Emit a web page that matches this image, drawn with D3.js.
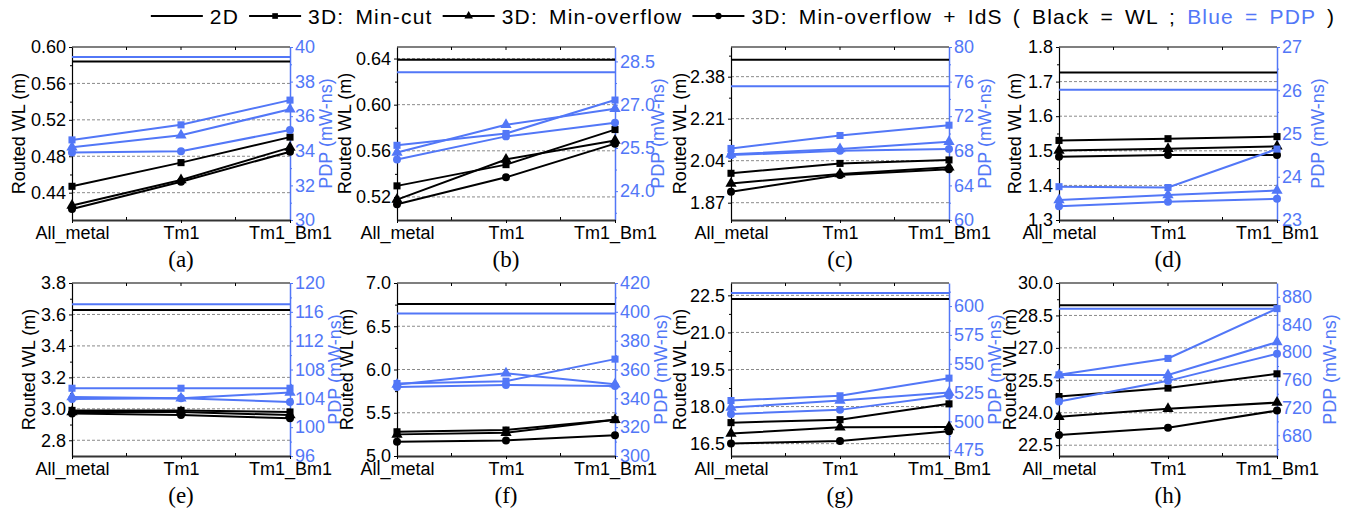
<!DOCTYPE html>
<html><head><meta charset="utf-8">
<script src="https://cdn.jsdelivr.net/npm/d3@7"></script>
<style>
body{margin:0;background:#fff}
text{font-family:"Liberation Sans",Arial,sans-serif}
</style>
</head><body><svg id="c" width="1364" height="512"></svg>
<script>
// ---------------- data ----------------
const categories = ["All_metal", "Tm1", "Tm1_Bm1"];
const panelLabels = ["(a)", "(b)", "(c)", "(d)", "(e)", "(f)", "(g)", "(h)"];
const seriesNames = ["2D", "3D: Min-cut", "3D: Min-overflow", "3D: Min-overflow + IdS"];

// Routed WL (m)
const wl2D = [0.584, 0.639, 2.448, 1.726, 3.629, 6.758, 22.35, 28.97];
const wlMinCut = [[0.447,0.473,0.501],[0.5296,0.548,0.5784],[1.989,2.029,2.043],[1.530,1.535,1.541],[2.99,2.99,2.98],[5.28,5.30,5.42],[17.35,17.47,18.11],[24.75,25.14,25.80]];
const wlMinOverflow = [[0.426,0.454,0.4895],[0.5177,0.5525,0.569],[1.948,1.986,2.013],[1.501,1.506,1.513],[2.98,2.98,2.96],[5.25,5.27,5.42],[16.91,17.16,17.17],[23.82,24.18,24.47]];
const wlIdS = [[0.422,0.452,0.485],[0.5136,0.537,0.5662],[1.914,1.982,2.005],[1.483,1.488,1.488],[2.97,2.96,2.94],[5.165,5.18,5.24],[16.51,16.61,17.00],[22.97,23.31,24.10]];

// PDP (mW-ns)
const pdp2D = [39.42, 28.12, 75.46, 26.01, 117.05, 398.8, 611.3, 862.8];
const pdpMinCut = [[34.63,35.5,36.93],[25.59,26.0,27.16],[68.27,69.77,70.96],[23.77,23.75,24.64],[105.4,105.4,105.4],[350.3,351.9,367.2],[518.1,522.2,537.5],[767.3,791.0,863.0]];
const pdpMinOverflow = [[34.2,34.9,36.4],[25.34,26.3,26.86],[67.6,68.2,69.04],[23.46,23.58,23.68],[104.2,104.0,104.8],[349.6,357.4,349.8],[512.0,518.1,525.1],[767.0,767.0,814.6]];
const pdpIdS = [[33.9,33.98,35.2],[25.1,25.9,26.37],[67.5,68.0,68.2],[23.32,23.42,23.49],[103.9,104.0,103.5],[347.8,349.2,348.5],[506.5,510.0,522.5],[728.7,758.6,797.7]];

// axes
const wlDomains = [[0.41,0.60],[0.50,0.65],[1.80,2.50],[1.3,1.8],[2.7,3.8],[5.0,7.0],[16.0,23.0],[22.0,30.0]];
const wlTicks = [[0.44,0.48,0.52,0.56,0.60],[0.52,0.56,0.60,0.64],[1.87,2.04,2.21,2.38],[1.3,1.4,1.5,1.6,1.7,1.8],[2.8,3.0,3.2,3.4,3.6,3.8],[5.0,5.5,6.0,6.5,7.0],[16.5,18.0,19.5,21.0,22.5],[22.5,24.0,25.5,27.0,28.5,30.0]];
const wlTickFormats = [".2f",".2f",".2f",".1f",".1f",".1f",".1f",".1f"];
const pdpDomains = [[30,40],[23,29],[60,80],[23,27],[96,120],[300,420],[470,620],[650,900]];
const pdpTicks = [[30,32,34,36,38,40],[24.0,25.5,27.0,28.5],[60,64,68,72,76,80],[23,24,25,26,27],[96,100,104,108,112,116,120],[300,320,340,360,380,400,420],[475,500,525,550,575,600],[680,720,760,800,840,880]];
const pdpTickFormats = ["d",".1f","d","d","d","d","d","d"];
const wlTitle = "Routed WL (m)";
const pdpTitle = "PDP (mW-ns)";

// ---------------- layout ----------------
const BLUE = "#5277f7";
const colX = [72, 397, 731, 1059];
const rowY = [47, 283];
const PW = 218, PH = 173;
const leftTitleOff = [53, 52, 51, 44, 43, 50, 51, 49];
const rightTitleOff = [36, 43, 36, 41, 45, 46, 46, 53];

const svg = d3.select("#c");
const symTypes = [null, d3.symbolSquare, d3.symbolTriangle, d3.symbolCircle];

function minorTicks(ticks, dom) {
  const step = ticks[1] - ticks[0];
  const out = [];
  const lo = Math.min(dom[0], dom[1]), hi = Math.max(dom[0], dom[1]);
  for (let k = -3; k < ticks.length + 3; k++) {
    const v = ticks[0] + (k + 0.5) * step;
    if (v > lo + 1e-9 && v < hi - 1e-9) out.push(v);
  }
  return out;
}

for (let i = 0; i < 8; i++) {
  const col = i % 4, row = Math.floor(i / 4);
  const x0 = colX[col], y0 = rowY[row];
  const g = svg.append("g");
  const x = d3.scalePoint().domain(categories).range([x0, x0 + PW]).padding(0);
  const yL = d3.scaleLinear().domain(wlDomains[i]).range([y0 + PH, y0]);
  const yR = d3.scaleLinear().domain(pdpDomains[i]).range([y0 + PH, y0]);

  // grid
  const dom = wlDomains[i];
  g.selectAll(".grid").data(wlTicks[i].filter(t => t > dom[0] + 1e-9 && t < dom[1] - 1e-9))
    .enter().append("line")
    .attr("x1", x0).attr("x2", x0 + PW)
    .attr("y1", d => yL(d)).attr("y2", d => yL(d))
    .attr("stroke", "#8a8a8a").attr("stroke-width", 1).attr("stroke-dasharray", "3,2");

  // left axis
  const aL = g.append("g").attr("transform", `translate(${x0},0)`)
    .call(d3.axisLeft(yL).tickValues(wlTicks[i]).tickFormat(d3.format(wlTickFormats[i])).tickSize(3).tickPadding(3).tickSizeOuter(0));
  aL.selectAll("text").attr("font-size", 18).attr("fill", "#000").style("font-family", "'Liberation Sans',Arial,sans-serif");
  aL.select(".domain").attr("stroke", "#000").attr("stroke-width", 1.2);
  g.append("g").attr("transform", `translate(${x0},0)`)
    .call(d3.axisLeft(yL).tickValues(minorTicks(wlTicks[i], dom)).tickFormat("").tickSize(2).tickSizeOuter(0))
    .select(".domain").remove();

  // right axis
  const aR = g.append("g").attr("transform", `translate(${x0 + PW},0)`)
    .call(d3.axisRight(yR).tickValues(pdpTicks[i]).tickFormat(d3.format(pdpTickFormats[i])).tickSize(3).tickPadding(2).tickSizeOuter(0));
  aR.selectAll("text").attr("font-size", 18).attr("fill", BLUE).style("font-family", "'Liberation Sans',Arial,sans-serif");
  aR.selectAll("line").attr("stroke", BLUE);
  aR.select(".domain").attr("stroke", BLUE).attr("stroke-width", 1.5);
  const mR = g.append("g").attr("transform", `translate(${x0 + PW},0)`)
    .call(d3.axisRight(yR).tickValues(minorTicks(pdpTicks[i], pdpDomains[i])).tickFormat("").tickSize(2).tickSizeOuter(0));
  mR.select(".domain").remove();
  mR.selectAll("line").attr("stroke", BLUE);

  // top frame
  g.append("line").attr("x1", x0).attr("x2", x0 + PW).attr("y1", y0).attr("y2", y0)
    .attr("stroke", "#000").attr("stroke-width", 1.2);
  const mids = [(x(categories[0]) + x(categories[1])) / 2, x(categories[1]), (x(categories[1]) + x(categories[2])) / 2];
  g.selectAll(".tt").data(mids).enter().append("line")
    .attr("x1", d => d).attr("x2", d => d).attr("y1", y0).attr("y2", y0 + 3).attr("stroke", "#000");

  // bottom axis
  const aB = g.append("g").attr("transform", `translate(0,${y0 + PH})`)
    .call(d3.axisBottom(x).tickSize(3).tickPadding(3).tickSizeOuter(0));
  aB.selectAll("text").attr("font-size", 18).attr("fill", "#000").style("font-family", "'Liberation Sans',Arial,sans-serif");
  aB.select(".domain").attr("stroke", "#333").attr("stroke-width", 2);
  g.selectAll(".bt").data([mids[0], mids[2]]).enter().append("line")
    .attr("x1", d => d).attr("x2", d => d).attr("y1", y0 + PH).attr("y2", y0 + PH - 3).attr("stroke", "#000");

  // titles
  g.append("text").attr("transform", `translate(${x0 - leftTitleOff[i]},${y0 + PH / 2}) rotate(-90)`)
    .attr("text-anchor", "middle").attr("dy", "0.35em").attr("font-size", 18).attr("fill", "#000").text(wlTitle);
  g.append("text").attr("transform", `translate(${x0 + PW + rightTitleOff[i]},${y0 + PH / 2}) rotate(-90)`)
    .attr("text-anchor", "middle").attr("dy", "0.35em").attr("font-size", 18).attr("fill", BLUE).text(pdpTitle);
  g.append("text").attr("x", x0 + PW / 2).attr("y", y0 + PH + 47).attr("text-anchor", "middle")
    .attr("font-size", 23).style("font-family", "'Liberation Serif','Times New Roman',serif").attr("fill", "#000").text(panelLabels[i]);

  // series
  const wlSeries = [[wl2D[i], wl2D[i], wl2D[i]], wlMinCut[i], wlMinOverflow[i], wlIdS[i]];
  const pdpSeries = [[pdp2D[i], pdp2D[i], pdp2D[i]], pdpMinCut[i], pdpMinOverflow[i], pdpIdS[i]];
  const drawSet = (series, y, color) => {
    series.forEach((vals, s) => {
      const line = d3.line().x((d, k) => x(categories[k])).y(d => y(d));
      g.append("path").attr("d", line(vals)).attr("fill", "none").attr("stroke", color).attr("stroke-width", 2);
      if (symTypes[s]) {
        g.selectAll(null).data(vals).enter().append("path")
          .attr("transform", (d, k) => `translate(${x(categories[k])},${y(d)})`)
          .attr("d", d3.symbol().type(symTypes[s]).size(s === 2 ? 55 : 50))
          .attr("fill", color);
      }
    });
  };
  drawSet(wlSeries, yL, "#000");
  drawSet(pdpSeries, yR, BLUE);
}

// ---------------- legend ----------------
const lg = svg.append("g");
const LFS = 21;
let cx = 0;
const ly = 16;
const styleT = t => t.attr("font-size", LFS).attr("fill", "#000").style("letter-spacing", "1.2px").style("word-spacing", "4px");
seriesNames.forEach((name, s) => {
  lg.append("line").attr("x1", cx).attr("x2", cx + 52).attr("y1", ly).attr("y2", ly).attr("stroke", "#000").attr("stroke-width", 2);
  if (symTypes[s]) lg.append("path").attr("transform", `translate(${cx + 26},${ly})`).attr("d", d3.symbol().type(symTypes[s]).size(32)).attr("fill", "#000");
  cx += 59;
  const t = styleT(lg.append("text").attr("x", cx).attr("y", ly).attr("dy", "0.36em")).text(name);
  cx += t.node().getBBox().width + 10;
});
const t2 = styleT(lg.append("text").attr("x", cx).attr("y", ly).attr("dy", "0.36em"));
t2.append("tspan").text("( Black = WL ; ");
t2.append("tspan").attr("fill", BLUE).text("Blue = PDP");
t2.append("tspan").text(" )");
cx += t2.node().getBBox().width;
lg.attr("transform", `translate(${743 - cx / 2},0)`);
</script></body></html>
